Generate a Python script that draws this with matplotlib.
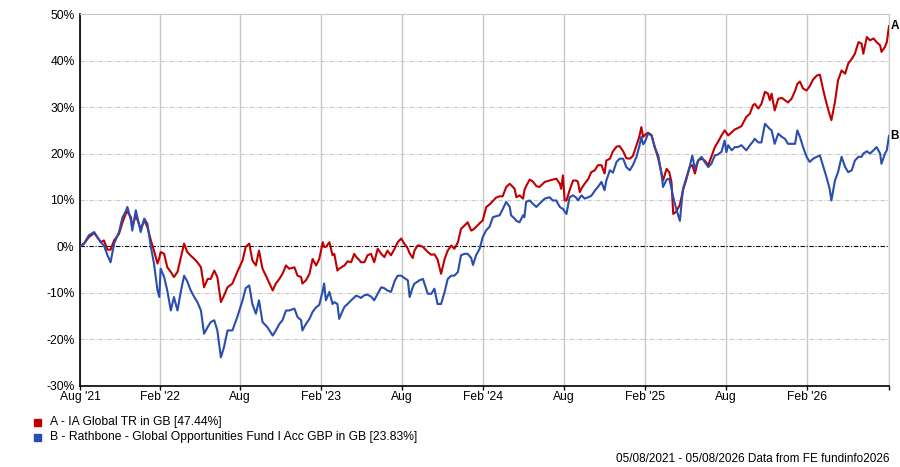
import numpy as np
import pandas as pd
import matplotlib
matplotlib.use('Agg')
import matplotlib.pyplot as plt

start = pd.Timestamp('2021-08-05')
end = pd.Timestamp('2026-08-05')

# days since start for each sample
days = [0, 9, 20, 32, 39, 47, 54, 62, 69, 77, 88, 96, 103, 107, 115, 118, 126, 137, 145, 152,
        160, 167, 175, 179, 182, 190, 197, 205, 212, 220, 228, 235, 242, 250, 258, 265, 273, 280, 288, 295,
        303, 310, 318, 325, 333, 344, 355, 367, 374, 382, 389, 397, 404, 412, 423, 435, 442, 450, 457, 465,
        472, 484, 491, 499, 502, 510, 518, 525, 533, 540, 548, 551, 555, 563, 570, 574, 581, 585, 593, 597,
        604, 612, 619, 623, 631, 634, 642, 649, 657, 664, 672, 680, 687, 694, 702, 710, 717, 725, 732, 740,
        744, 751, 755, 762, 766, 774, 781, 785, 793, 800, 807, 815, 823, 830, 838, 845, 853, 860, 868, 875,
        883, 887, 894, 902, 909, 917, 924, 932, 939, 947, 954, 962, 970, 973, 981, 985, 992, 1000, 1003, 1007,
        1015, 1022, 1030, 1037, 1049, 1060, 1067, 1075, 1083, 1086, 1090, 1094, 1098, 1105, 1113, 1120, 1124, 1128, 1132, 1139,
        1147, 1154, 1162, 1169, 1177, 1184, 1188, 1196, 1203, 1211, 1218, 1226, 1233, 1241, 1248, 1256, 1262, 1267, 1271, 1275,
        1282, 1290, 1297, 1305, 1312, 1316, 1324, 1330, 1335, 1339, 1346, 1354, 1361, 1369, 1376, 1382, 1388, 1395, 1403, 1410,
        1418, 1425, 1433, 1440, 1448, 1455, 1459, 1463, 1471, 1478, 1485, 1493, 1504, 1512, 1519, 1523, 1531, 1538, 1546, 1553,
        1557, 1561, 1568, 1576, 1584, 1591, 1598, 1606, 1614, 1619, 1625, 1632, 1640, 1647, 1655, 1663, 1670, 1678, 1685, 1692,
        1696, 1704, 1711, 1719, 1727, 1734, 1742, 1749, 1757, 1764, 1768, 1776, 1783, 1791, 1798, 1806, 1809, 1817, 1821, 1826]

# A - IA Global TR in GB
ia_global = [0, 0.6, 2.0, 2.9, 2.0, 0.9, 1.3, -0.7, -0.7, 1.3, 2.7, 5.2, 7.0, 7.5, 6.3, 4.2, 6.7, 3.8, 5.6, 4.2,
             1.3, -0.9, -3.7, -2.5, -1.2, -1.6, -4.5, -5.5, -6.6, -5.5, -2.3, 0.6, -1.2, -2.0, -2.7, -3.4, -4.5, -8.8, -7.0, -7.0,
             -5.2, -6.6, -12.0, -10.6, -8.8, -8.0, -5.5, -3.0, -0.1, 0.6, -3.0, -4.1, -0.9, -4.8, -7.0, -9.5, -8.0, -7.0, -5.9, -4.1,
             -4.8, -4.5, -6.3, -6.6, -8.0, -7.3, -5.9, -2.7, -4.1, -2.7, 0.9, -0.1, -0.1, 0.9, -1.9, -1.6, -5.2, -4.8, -4.3, -4.1,
             -3.2, -3.4, -1.6, -2.2, -3.0, -3.4, -3.4, -1.9, -1.6, -3.4, -0.5, -1.6, -2.3, -0.9, -1.9, -0.5, 0.9, 1.7, 0.6, -0.5,
             -1.5, -2.5, -0.9, 0.2, 0.2, -0.1, -0.8, -1.2, -1.8, -1.7, -2.8, -5.9, -2.7, -0.9, 0.2, -0.5, 0.9, 3.8, 4.5, 5.2,
             3.4, 3.6, 4.2, 5.0, 5.6, 8.5, 9.0, 9.8, 10.5, 10.8, 10.8, 12.8, 13.5, 13.2, 12.4, 10.6, 11.0, 10.3, 12.1, 13.0,
             14.4, 14.0, 13.0, 12.8, 13.9, 14.2, 14.4, 14.6, 13.5, 12.4, 15.3, 9.9, 9.9, 12.1, 14.2, 14.2, 13.9, 11.7, 12.5, 13.5,
             14.5, 16.0, 16.4, 17.5, 17.5, 15.7, 18.5, 18.9, 20.5, 21.5, 21.6, 20.5, 19.0, 18.9, 19.5, 21.8, 23.5, 25.7, 23.6, 24.0,
             24.5, 24.0, 21.5, 19.0, 16.0, 14.2, 16.7, 16.0, 13.9, 7.0, 7.5, 9.0, 12.1, 14.6, 17.1, 17.5, 15.7, 18.5, 18.9, 18.5,
             17.5, 19.3, 21.4, 22.5, 23.9, 25.0, 24.5, 23.9, 24.6, 25.2, 25.5, 25.9, 27.9, 28.6, 30.4, 30.7, 29.7, 30.7, 33.3, 32.9,
             31.5, 32.9, 29.3, 31.8, 32.0, 31.5, 31.0, 31.8, 33.5, 35.0, 35.5, 34.0, 33.6, 34.5, 36.0, 36.8, 37.0, 33.5, 30.8, 28.4,
             27.2, 31.1, 35.8, 37.9, 37.2, 39.4, 40.4, 41.5, 44.0, 43.7, 41.5, 45.1, 44.4, 44.8, 44.0, 43.3, 41.9, 43.0, 44.0, 47.44]

# B - Rathbone Global Opportunities
rathbone = [0, 0.6, 2.4, 3.1, 2.0, 0.9, 0.2, -1.9, -3.4, 0.6, 3.1, 6.3, 7.5, 8.5, 5.6, 3.4, 7.8, 3.1, 6.0, 4.9,
            -0.1, -3.7, -9.5, -10.9, -4.8, -6.6, -9.5, -13.8, -10.9, -13.8, -9.5, -6.3, -7.5, -9.5, -10.9, -12.0, -13.8, -18.8, -17.4, -16.3,
            -15.9, -18.1, -23.9, -21.7, -18.1, -18.1, -15.2, -11.6, -9.0, -8.4, -12.4, -14.5, -11.6, -16.3, -17.4, -19.2, -18.1, -16.7, -15.9, -13.8,
            -13.8, -13.4, -15.2, -15.9, -18.1, -16.7, -15.6, -14.1, -13.1, -12.6, -9.5, -8.0, -11.6, -9.8, -12.4, -12.0, -12.4, -15.6, -13.8, -13.0,
            -12.4, -11.6, -11.0, -10.6, -10.9, -11.1, -10.5, -10.4, -10.8, -11.6, -10.2, -8.8, -9.0, -9.5, -9.8, -7.5, -6.3, -6.3, -6.8, -7.3,
            -10.9, -8.8, -8.0, -7.6, -7.3, -7.0, -9.0, -10.2, -10.2, -9.1, -12.4, -12.4, -9.8, -7.0, -6.3, -6.3, -5.5, -1.9, -1.6, -1.6,
            -2.5, -4.0, -1.9, -0.5, 2.0, 3.5, 4.2, 6.3, 6.5, 6.7, 8.0, 9.6, 8.5, 6.7, 6.0, 5.5, 5.2, 6.7, 6.3, 9.6,
            9.9, 9.2, 8.5, 9.2, 10.3, 10.6, 9.9, 9.9, 8.5, 8.3, 8.1, 7.5, 7.0, 10.6, 11.0, 10.5, 9.9, 10.5, 11.0, 10.3,
            10.6, 10.9, 12.0, 12.8, 13.9, 12.1, 14.2, 16.4, 15.9, 18.2, 18.9, 18.9, 17.1, 16.4, 17.5, 19.3, 21.4, 23.6, 22.0, 22.5,
            24.3, 23.9, 21.4, 19.6, 16.0, 12.8, 14.4, 14.6, 12.5, 10.6, 8.0, 5.5, 12.4, 14.9, 17.1, 19.6, 16.7, 18.5, 19.3, 18.2,
            17.1, 17.8, 19.6, 19.8, 20.4, 22.8, 20.3, 21.8, 20.7, 21.4, 21.4, 21.8, 20.7, 21.8, 22.6, 23.2, 22.4, 22.4, 26.4, 25.7,
            25.3, 25.0, 22.1, 24.3, 23.6, 23.2, 22.1, 22.1, 22.1, 25.0, 23.6, 21.4, 19.3, 18.2, 18.9, 19.3, 19.6, 17.1, 14.9, 12.4,
            9.9, 14.2, 16.0, 19.3, 17.1, 16.0, 16.4, 18.5, 19.3, 19.3, 20.0, 20.5, 20.0, 20.7, 21.4, 20.0, 17.8, 20.0, 20.7, 23.83]

tick_dates = ['2021-08-05', '2022-02-01', '2022-08-01', '2023-02-01', '2023-08-01',
              '2024-02-01', '2024-08-01', '2025-02-01', '2025-08-01', '2026-02-01', '2026-08-05']
tick_labels = ["Aug '21", "Feb '22", 'Aug', "Feb '23", 'Aug', "Feb '24", 'Aug', "Feb '25", 'Aug', "Feb '26", '']

red = '#C00000'
blue = '#2A4DB0'

plt.rcParams['font.family'] = ['Liberation Sans', 'DejaVu Sans']

dates = start + pd.to_timedelta(days, unit='D')

fig = plt.figure(figsize=(9, 4.67), dpi=100)
ax = fig.add_axes([80/900, (467-385.7)/467, (889-80)/900, (385.7-14.3)/467])

ax.plot(dates, ia_global, color=red, lw=1.5, zorder=3)
ax.plot(dates, rathbone, color=blue, lw=1.5, zorder=3)

ax.set_xlim(start, end)
ax.set_ylim(-30, 50)
ax.set_yticks(np.arange(-30, 51, 10))
ax.set_yticklabels(['{}%'.format(v) for v in range(-30, 51, 10)], fontsize=8.7)

ax.set_xticks(pd.to_datetime(tick_dates))
ax.set_xticklabels(tick_labels, fontsize=8.7)

# grid
for t in pd.to_datetime(tick_dates):
    ax.axvline(t, color='#c8c8c8', lw=1, zorder=1)
for v in range(-20, 50, 10):
    if v == 0:
        ax.axhline(0, color='black', lw=0.8, ls=(0, (4, 1.5, 1, 1.5)), zorder=2)
    else:
        ax.axhline(v, color='#c8c8c8', lw=0.8, ls=(0, (4, 1.5, 1, 1.5)), zorder=1)

ax.spines['top'].set_color('#c8c8c8')
ax.spines['right'].set_color('#c8c8c8')
ax.spines['left'].set_color('black')
ax.spines['bottom'].set_color('black')
ax.spines['left'].set_linewidth(1.2)
ax.spines['bottom'].set_linewidth(1.2)
ax.tick_params(axis='x', length=3, width=1, pad=1, colors='black')
ax.tick_params(axis='y', length=0, pad=4)

ax.text(1.002, (ia_global[-1] + 30) / 80, 'A', transform=ax.transAxes, fontsize=8.5,
        fontweight='bold', va='center', ha='left')
ax.text(1.002, (rathbone[-1] + 30) / 80, 'B', transform=ax.transAxes, fontsize=8.5,
        fontweight='bold', va='center', ha='left')

# legend
fig.patches.append(plt.Rectangle((34/900, 1-426/467), 7/900, 7/467, color=red, transform=fig.transFigure))
fig.patches.append(plt.Rectangle((34/900, 1-441/467), 7/900, 7/467, color=blue, transform=fig.transFigure))
fig.text(50/900, 1-422/467, 'A - IA Global TR in GB [47.44%]', fontsize=8.75, va='center')
fig.text(50/900, 1-437/467, 'B - Rathbone - Global Opportunities Fund I Acc GBP in GB [23.83%]', fontsize=8.75, va='center')

fig.text(889/900, 1-459/467, '05/08/2021 - 05/08/2026 Data from FE fundinfo2026', fontsize=8.5,
         va='center', ha='right')

fig.savefig('out.png', dpi=100)
